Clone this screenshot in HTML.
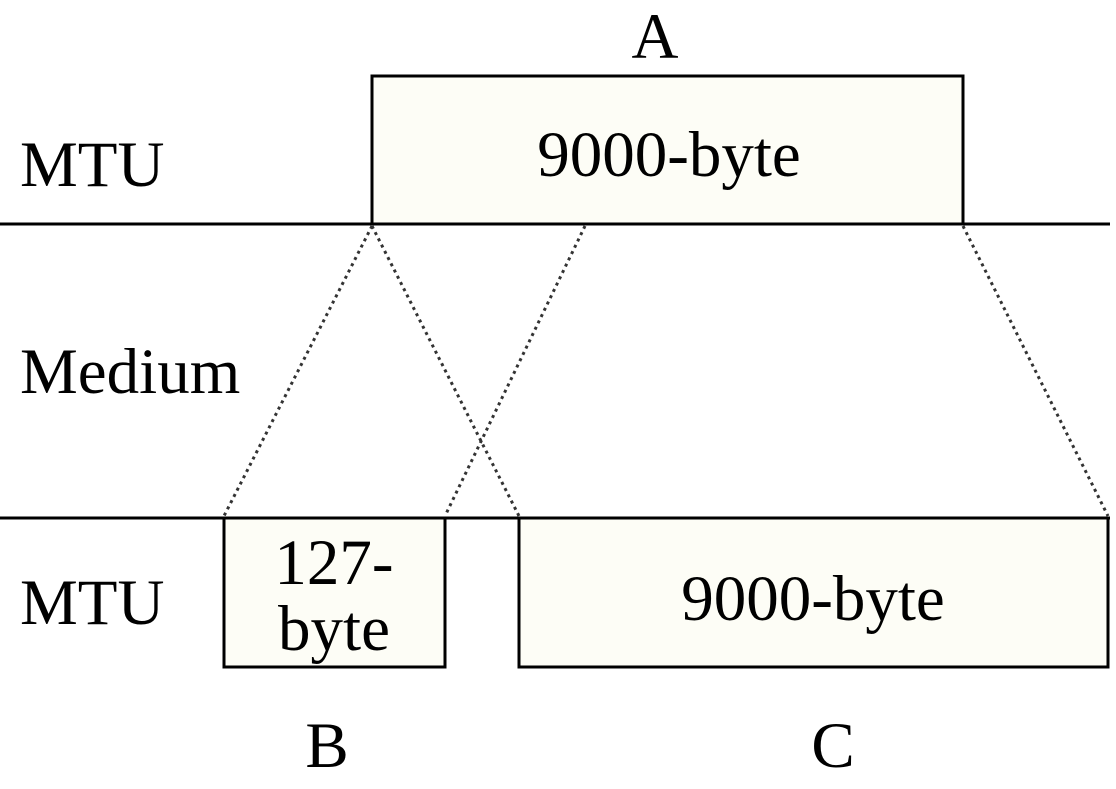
<!DOCTYPE html>
<html><head><style>
body{margin:0;background:#fff;}
svg text{font-family:"Liberation Serif",serif;font-size:65px;fill:#000;}
</style></head><body>
<svg width="1116" height="784" viewBox="0 0 1116 784">
<rect x="372" y="76" width="591" height="148" fill="#fdfdf6" stroke="#000" stroke-width="3"/>
<rect x="224" y="518" width="221" height="149" fill="#fdfdf6" stroke="#000" stroke-width="3"/>
<rect x="519" y="518" width="589" height="149" fill="#fdfdf6" stroke="#000" stroke-width="3"/>
<line x1="0" y1="224" x2="1110" y2="224" stroke="#000" stroke-width="3"/>
<line x1="0" y1="518" x2="1110" y2="518" stroke="#000" stroke-width="3"/>
<g stroke="#333" stroke-width="3" stroke-dasharray="3,4">
<line x1="372" y1="226" x2="224" y2="516"/>
<line x1="372" y1="226" x2="519" y2="516"/>
<line x1="585" y1="226" x2="445" y2="516"/>
<line x1="963" y1="226" x2="1108" y2="516"/>
</g>
<text x="655" y="58" text-anchor="middle">A</text>
<text x="20" y="186">MTU</text>
<text x="20" y="393">Medium</text>
<text x="20" y="624">MTU</text>
<text x="669" y="176" text-anchor="middle">9000-byte</text>
<text x="813" y="620" text-anchor="middle">9000-byte</text>
<text x="334" y="584" text-anchor="middle">127-</text>
<text x="334" y="650" text-anchor="middle">byte</text>
<text x="327" y="767" text-anchor="middle">B</text>
<text x="833" y="767" text-anchor="middle">C</text>
</svg>
</body></html>
